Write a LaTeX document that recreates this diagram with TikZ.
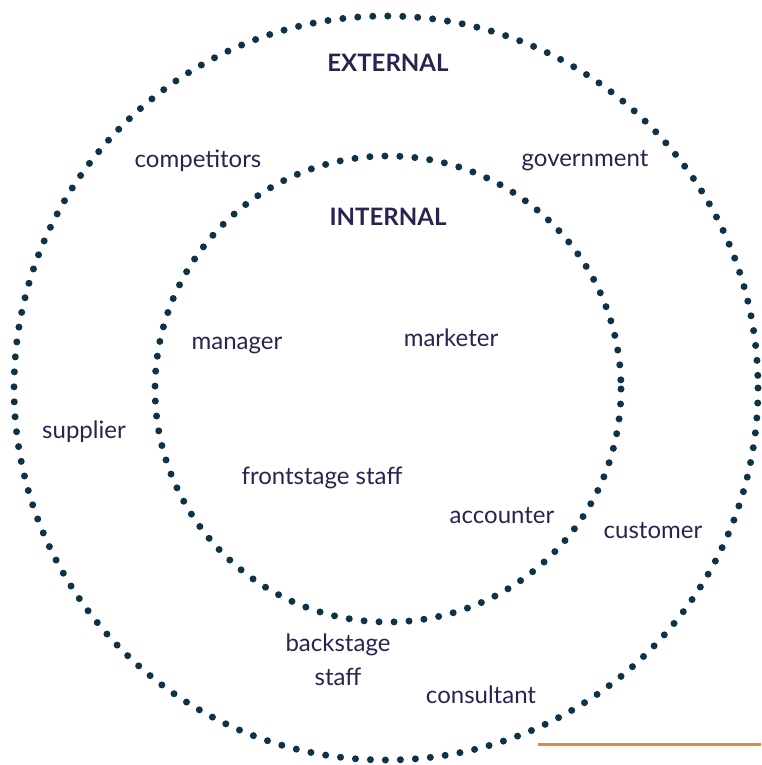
\documentclass[tikz,border=0pt]{standalone}
\usepackage{fontspec}
\setmainfont{Lato}
\usepackage{tikz}
\usetikzlibrary{positioning}

\definecolor{inkblue}{HTML}{2A2350}
\definecolor{dotblue}{HTML}{0E3347}
\definecolor{rulecol}{HTML}{E0893A}

\begin{document}
\begin{tikzpicture}[x=1pt, y=-1pt,
    ring/.style={draw=dotblue, line width=7pt, line cap=round, dash pattern=on 0pt off 15pt},
    label/.style={text=inkblue, font=\fontsize{24}{28}\selectfont, inner sep=0pt},
    heading/.style={text=inkblue, font=\fontsize{24}{28}\selectfont\bfseries, inner sep=0pt}]

    \useasboundingbox (0,0) rectangle (761,765);

    % two stakeholder rings
    \draw [ring] (386,388) circle [radius=372];
    \draw [ring] (388,389) circle [radius=233];

    \node [heading] (external) at (388,63) {EXTERNAL};
    \node [heading] (internal) at (388,217) {INTERNAL};

    \node [label] (competitors) at (198,161) {competitors};
    \node [label] (government) at (585,161) {government};
    \node [label] (manager) at (237,346) {manager};
    \node [label] (marketer) at (451,338) {marketer};
    \node [label] (supplier) at (84,432) {supplier};
    \node [label] (frontstage) at (322,478) {frontstage staff};
    \node [label] (accounter) at (502,516) {accounter};
    \node [label] (customer) at (653,531) {customer};
    \node [label, align=center] (backstage) at (338,660) {backstage\\[6pt]staff};
    \node [label] (consultant) at (481,695) {consultant};

    \draw [rulecol, line width=3pt] (538,744) -- (761,744);
\end{tikzpicture}
\end{document}
